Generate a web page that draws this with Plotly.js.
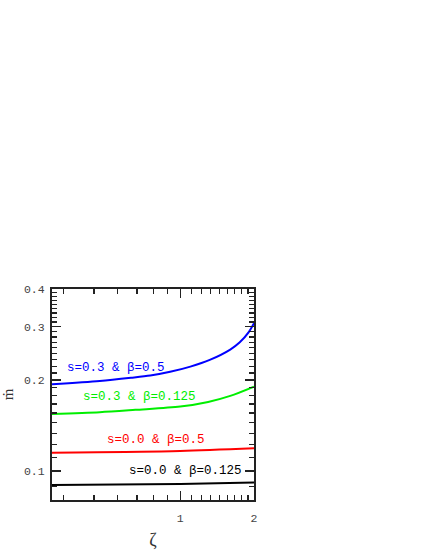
<!DOCTYPE html>
<html>
<head>
<meta charset="utf-8">
<script src="https://cdn.plot.ly/plotly-3.0.1.min.js"></script>
<style>
  body { margin: 0; background: #fff; }
  #chart { width: 425px; height: 550px; }
</style>
</head>
<body>
<div id="chart"></div>
<script>
var zetaBlue = [0.3, 0.47, 0.63, 0.755, 0.91, 1.1, 1.32, 1.6, 1.75, 1.9, 2.0];
var mdotBlue = [0.1936, 0.1985, 0.2033, 0.2068, 0.2128, 0.2215, 0.2331, 0.2522, 0.2665, 0.2875, 0.3084];

var zetaGreen = [0.3, 0.47, 0.656, 1.0, 1.3, 1.6, 2.0];
var mdotGreen = [0.1544, 0.1565, 0.1593, 0.1633, 0.1692, 0.1772, 0.1902];

var zetaRed = [0.3, 1.0, 2.0];
var mdotRed = [0.115, 0.1165, 0.1189];

var zetaBlack = [0.3, 1.0, 2.0];
var mdotBlack = [0.0899, 0.0905, 0.0916];

var seriesLabels = ["s=0.3 & β=0.5", "s=0.3 & β=0.125", "s=0.0 & β=0.5", "s=0.0 & β=0.125"];

// ticks: majors labelled, minors at 1/9 steps of the decade major
var xTicks = [1, 2];
var xTickText = ["1", "2"];
var xMinor = [3, 4, 5, 6, 7, 8, 10, 11, 12, 13, 14, 15, 16, 17].map(k => k / 9);

var yTicks = [0.1, 0.2, 0.3, 0.4];
var yTickText = ["0.1", "0.2", "0.3", "0.4"];
var yMinor = [8, 10, 11, 12, 13, 14, 15, 16, 17, 19, 20, 21, 22, 23, 24, 25, 26,
              28, 29, 30, 31, 32, 33, 34, 35].map(k => k / 90);

var mono = "Liberation Mono, Courier New, monospace";

function line(x, y, color) {
    return {x: x, y: y, type: "scatter", mode: "lines",
            line: {color: color, width: 2, shape: "spline", smoothing: 0.8}, hoverinfo: "skip"};
}

var data = [
    line(zetaBlue, mdotBlue, "#0000ff"),
    line(zetaGreen, mdotGreen, "#00ee00"),
    line(zetaRed, mdotRed, "#ff0000"),
    line(zetaBlack, mdotBlack, "#000000")
];

function label(i, x, y, color) {
    return {text: seriesLabels[i], xref: "paper", yref: "paper", x: x, y: y,
            xanchor: "center", yanchor: "middle", showarrow: false,
            font: {family: mono, size: 12.5, color: color}};
}

var axisCommon = {
    type: "log",
    showgrid: false,
    zeroline: false,
    showline: true,
    linecolor: "#222",
    linewidth: 2,
    mirror: "allticks",
    ticks: "inside",
    ticklen: 9,
    tickwidth: 1.3,
    tickcolor: "#222",
    tickmode: "array",
    tickfont: {family: mono, size: 11.5, color: "#444"}
};

var layout = {
    width: 425,
    height: 550,
    margin: {l: 52, r: 171, t: 289, b: 50},
    paper_bgcolor: "#fff",
    plot_bgcolor: "#fff",
    showlegend: false,
    xaxis: Object.assign({}, axisCommon, {
        range: [Math.log10(0.3), Math.log10(2)],
        tickvals: xTicks,
        ticktext: xTickText,
        ticklabelstandoff: 6,
        minor: {tickmode: "array", tickvals: xMinor, ticks: "inside", ticklen: 5, tickwidth: 1.3, tickcolor: "#222"},
        title: {text: "ζ", font: {family: "Liberation Serif, serif", size: 18, color: "#333"}, standoff: 14}
    }),
    yaxis: Object.assign({}, axisCommon, {
        range: [-1.096, Math.log10(0.4)],
        tickvals: yTicks,
        ticktext: yTickText,
        ticklabelstandoff: 3,
        minor: {tickmode: "array", tickvals: yMinor, ticks: "inside", ticklen: 5, tickwidth: 1.3, tickcolor: "#222"},
        title: {text: "ṁ", font: {family: "Liberation Serif, serif", size: 15, color: "#333"}, standoff: 12}
    }),
    annotations: [
        label(0, 0.319, 0.626, "#0000ff"),
        label(1, 0.432, 0.488, "#00ee00"),
        label(2, 0.515, 0.284, "#ff0000"),
        label(3, 0.66, 0.137, "#000000")
    ]
};

Plotly.newPlot("chart", data, layout, {displayModeBar: false, staticPlot: true});
</script>
</body>
</html>
